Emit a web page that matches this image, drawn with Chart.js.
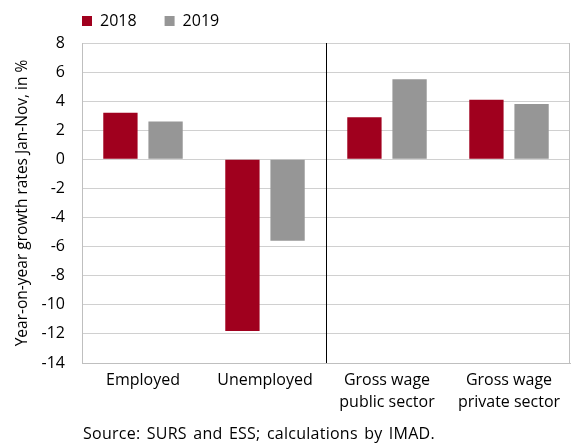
<!DOCTYPE html>
<html>
<head>
<meta charset="utf-8">
<script src="https://cdn.jsdelivr.net/npm/chart.js@4/dist/chart.umd.min.js"></script>
<style>
  body { margin: 0; background: #fff; }
  #wrap { position: relative; width: 573px; height: 443px; }
  #source { position: absolute; left: 83px; top: 422px; font: 16px/22px "Open Sans", sans-serif; word-spacing: 2px; letter-spacing: 0.25px; color: #000; }
</style>
</head>
<body>
<div id="wrap">
  <canvas id="chart" width="573" height="443"></canvas>
  <div id="source">Source: SURS and ESS; calculations by IMAD.</div>
</div>
<script>
const categories = ['Employed', 'Unemployed', ['Gross wage', 'public sector'], ['Gross wage', 'private sector']];
const values2018 = [3.2, -11.8, 2.9, 4.1];
const values2019 = [2.6, -5.6, 5.5, 3.8];
const yTicks = [8, 6, 4, 2, 0, -2, -4, -6, -8, -10, -12, -14];

const LEGEND_PAD = 28;

// vertical separator between the employment and wage groups, plus right frame edge
const separator = {
  id: 'separator',
  afterLayout(chart) {
    // pull legend back to the plot's left edge (align:start adds label padding)
    chart.legend.left -= LEGEND_PAD;
    chart.legend.right -= LEGEND_PAD;
  },
  afterDatasetsDraw(chart) {
    const x = chart.scales.x;
    const y = chart.scales.y;
    const px = Math.round((x.getPixelForValue(1) + x.getPixelForValue(2)) / 2) + 0.5;
    const ctx = chart.ctx;
    ctx.save();
    ctx.lineWidth = 1;
    ctx.strokeStyle = '#000';
    ctx.beginPath();
    ctx.moveTo(px, y.top);
    ctx.lineTo(px, y.bottom);
    ctx.stroke();
    ctx.strokeStyle = '#BFBFBF';
    ctx.beginPath();
    ctx.moveTo(Math.round(x.right) - 0.5, y.top);
    ctx.lineTo(Math.round(x.right) - 0.5, y.bottom);
    ctx.stroke();
    ctx.restore();
  }
};

new Chart(document.getElementById('chart'), {
  type: 'bar',
  data: {
    labels: categories,
    datasets: [
      { label: '2018', data: values2018, backgroundColor: '#A0001E' },
      { label: '2019', data: values2019, backgroundColor: '#969696' }
    ]
  },
  options: {
    responsive: false,
    animation: false,
    categoryPercentage: 0.74,
    barPercentage: 0.76,
    layout: { padding: { left: 9, right: 3, top: -15, bottom: 0 } },
    plugins: {
      legend: {
        position: 'top',
        align: 'start',
        fullSize: false,
        labels: {
          boxWidth: 10, boxHeight: 10, padding: LEGEND_PAD,
          color: '#000',
          font: { family: 'Open Sans', size: 16 }
        }
      },
      // empty spacer between legend and plot
      title: { display: true, text: '', weight: 500, fullSize: false, padding: 0, font: { size: 4, lineHeight: 1 } },
      tooltip: { enabled: false }
    },
    scales: {
      x: {
        grid: { display: false },
        border: { color: '#BFBFBF' },
        ticks: { color: '#000', font: { family: 'Open Sans', size: 16, lineHeight: 1.375 }, padding: -2 },
        afterFit: s => { s.height = 80; }
      },
      y: {
        min: -14, max: 8,
        afterBuildTicks: s => { s.ticks = yTicks.map(v => ({ value: v })); },
        afterFit: s => { s.width = 73; },
        grid: { color: '#D0D0D0', drawTicks: false },
        border: { color: '#BFBFBF' },
        ticks: { color: '#000', font: { family: 'Open Sans', size: 16 }, padding: 17 },
        title: {
          display: true,
          text: 'Year-on-year growth rates Jan-Nov, in %',
          color: '#000',
          font: { family: 'Open Sans', size: 15.5 },
          padding: 4
        }
      }
    }
  },
  plugins: [separator]
});
</script>
</body>
</html>
